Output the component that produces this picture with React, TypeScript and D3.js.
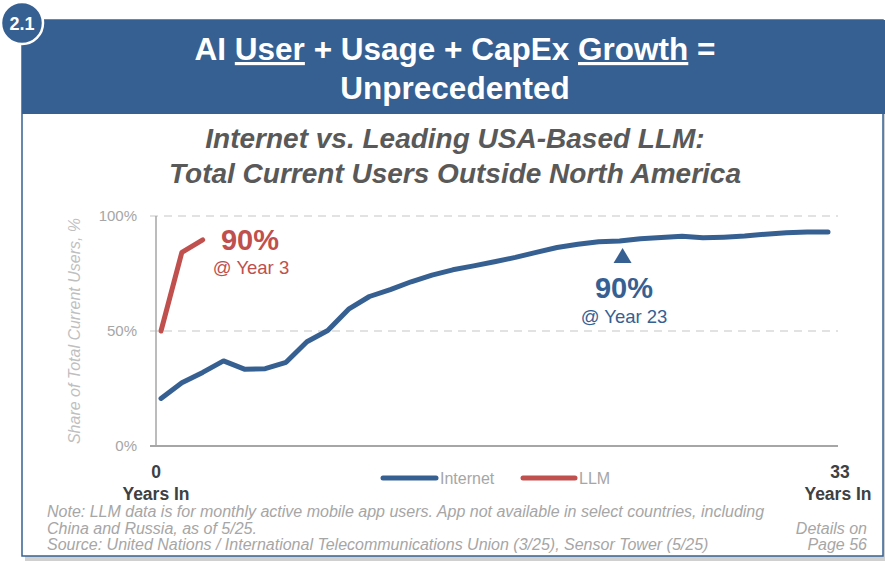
import { useMemo } from 'react';
import * as d3 from 'd3';

// Share of total current users outside North America, %, by years since launch
const years = d3.range(0, 33);
const internetShare = [
  20.7, 27.5, 32, 37, 33.4, 33.6, 36.4, 45.3, 50.2, 59.5, 65, 68, 71.4, 74.3, 76.6, 78.3, 80.1,
  82, 84.2, 86.3, 87.7, 88.8, 89.1, 90.1, 90.6, 91.2, 90.5, 90.8, 91.3, 92.1, 92.7, 93, 93,
];
const llmShare = [50, 84.2, 89.6];
const yTicks = [0, 50, 100];
const gridTicks = [50, 100];

const BLUE = '#376092';
const RED = '#c0504d';
const GRAY = '#a6a6a6';
const FONT = 'Arial, "Liberation Sans", sans-serif';

export default function App() {
  const W = 885;
  const H = 563;
  const plot = { left: 156, right: 838, top: 216, bottom: 446 };

  const x = useMemo(() => d3.scaleLinear().domain([0, 32]).range([161, 828]), []);
  const y = useMemo(() => d3.scaleLinear().domain([0, 100]).range([plot.bottom, plot.top]), []);

  const line = d3
    .line<number>()
    .x((_, i) => x(years[i]))
    .y((d) => y(d));

  const triX = x(22);

  return (
    <svg
      width={W}
      height={H}
      style={{ position: 'absolute', left: 0, top: 0, fontFamily: FONT }}
    >
      <rect width={W} height={H} fill="#fff" />
      {/* panel shadow + border */}
      <rect x={25} y={24} width={860} height={537} fill="#d0d0d0" />
      <rect x={22} y={20} width={861} height={536} fill="#fff" stroke={BLUE} strokeWidth={1.5} />
      <rect x={22} y={20} width={863} height={94} fill={BLUE} />

      {/* badge */}
      <circle cx={22} cy={23} r={21} fill={BLUE} stroke="#fff" strokeWidth={2.5} />
      <text x={22} y={29.5} textAnchor="middle" fill="#fff" fontWeight="bold" fontSize={18}>
        2.1
      </text>

      {/* header */}
      <text x={455} y={60} textAnchor="middle" fill="#fff" fontWeight="bold" fontSize={31.5}>
        AI <tspan textDecoration="underline">User</tspan> + Usage + CapEx{' '}
        <tspan textDecoration="underline">Growth</tspan> =
      </text>
      <text x={455} y={99} textAnchor="middle" fill="#fff" fontWeight="bold" fontSize={31.5}>
        Unprecedented
      </text>

      {/* subtitle */}
      <g fill="#595959" fontWeight="bold" fontStyle="italic" fontSize={28} textAnchor="middle">
        <text x={455} y={148}>Internet vs. Leading USA-Based LLM:</text>
        <text x={455} y={183}>Total Current Users Outside North America</text>
      </g>

      {/* grid */}
      {gridTicks.map((t) => (
        <line
          key={t}
          x1={150}
          x2={plot.right}
          y1={y(t)}
          y2={y(t)}
          stroke="#d9d9d9"
          strokeWidth={1.5}
          strokeDasharray="8 6"
        />
      ))}
      {/* axes */}
      <line x1={plot.left} x2={plot.left} y1={plot.top} y2={plot.bottom} stroke={GRAY} strokeWidth={1.5} />
      <line x1={150} x2={plot.right} y1={plot.bottom} y2={plot.bottom} stroke={GRAY} strokeWidth={2} />
      {yTicks.map((t) => (
        <text key={t} x={137} y={y(t) + 5} textAnchor="end" fill={GRAY} fontSize={15}>
          {t}%
        </text>
      ))}
      <text
        transform={`translate(80,${(plot.top + plot.bottom) / 2}) rotate(-90)`}
        textAnchor="middle"
        fill="#bfbfbf"
        fontStyle="italic"
        fontSize={16}
      >
        Share of Total Current Users, %
      </text>

      {/* x labels */}
      <g fill="#404040" fontWeight="bold" fontSize={17.5} textAnchor="middle">
        <text x={156} y={478}>0</text>
        <text x={156} y={500}>Years In</text>
        <text x={840} y={478}>33</text>
        <text x={838} y={500}>Years In</text>
      </g>

      {/* lines */}
      <path d={line(internetShare) ?? ''} fill="none" stroke={BLUE} strokeWidth={5} strokeLinecap="round" strokeLinejoin="round" />
      <path d={line(llmShare) ?? ''} fill="none" stroke={RED} strokeWidth={5} strokeLinecap="round" strokeLinejoin="round" />

      {/* annotations */}
      <text x={250} y={250} textAnchor="middle" fill={RED} fontWeight="bold" fontSize={29}>
        90%
      </text>
      <text x={251} y={274} textAnchor="middle" fill={RED} fontSize={18.5}>
        @ Year 3
      </text>
      <path d={`M${triX + 3},248 L${triX + 12},263 L${triX - 6},263 Z`} fill={BLUE} />
      <text x={624} y={298} textAnchor="middle" fill={BLUE} fontWeight="bold" fontSize={29}>
        90%
      </text>
      <text x={624} y={323} textAnchor="middle" fill={BLUE} fontSize={18.5}>
        @ Year 23
      </text>

      {/* legend */}
      <line x1={383} x2={436} y1={478} y2={478} stroke={BLUE} strokeWidth={5} strokeLinecap="round" />
      <text x={440} y={484} fill={GRAY} fontSize={16}>Internet</text>
      <line x1={523} x2={575} y1={478} y2={478} stroke={RED} strokeWidth={5} strokeLinecap="round" />
      <text x={579} y={484} fill={GRAY} fontSize={16}>LLM</text>

      {/* notes */}
      <g fill={GRAY} fontStyle="italic" fontSize={16}>
        <text x={47} y={517}>
          Note: LLM data is for monthly active mobile app users. App not available in select countries, including
        </text>
        <text x={47} y={533.5}>China and Russia, as of 5/25.</text>
        <text x={47} y={550}>
          Source: United Nations / International Telecommunications Union (3/25), Sensor Tower (5/25)
        </text>
        <text x={867} y={533.5} textAnchor="end">Details on</text>
        <text x={867} y={550} textAnchor="end">Page 56</text>
      </g>
    </svg>
  );
}
